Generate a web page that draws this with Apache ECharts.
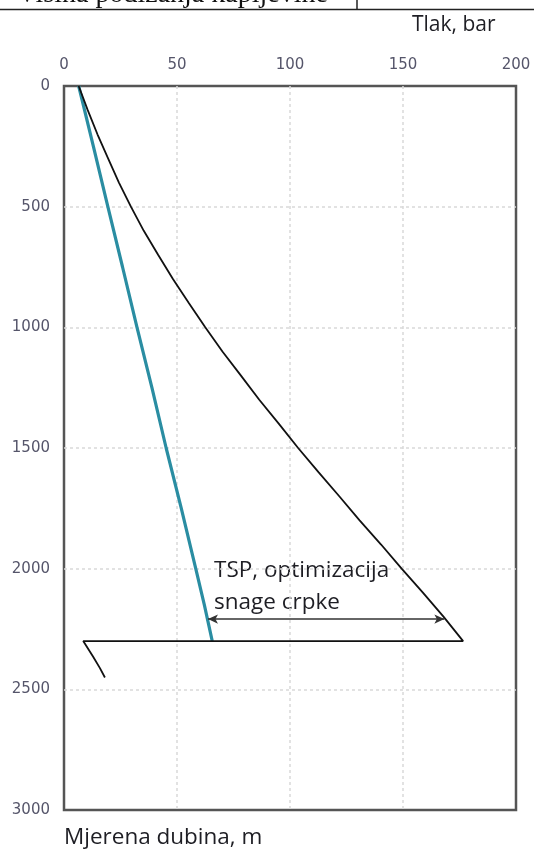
<!DOCTYPE html>
<html><head><meta charset="utf-8">
<script src="https://cdn.jsdelivr.net/npm/echarts@6/dist/echarts.min.js"></script>
<style>html,body{margin:0;padding:0;background:#fff}#c{width:534px;height:854px}</style>
</head><body><div id="c"></div>
<script>
// Axis ticks
const xTicks = [0, 50, 100, 150, 200];
const yTicks = [0, 500, 1000, 1500, 2000, 2500, 3000];

// Black line (pressure gradient), then back along the pump depth and a short tail
const blackDepth = [0, 100, 200, 300, 400, 500, 600, 700, 800, 900, 1000, 1100, 1200, 1300, 1400, 1500, 1600, 1700, 1800, 1900, 2000, 2100, 2200, 2300, 2300, 2365, 2412, 2451];
const blackPressure = [6.5, 10.5, 14.8, 19.5, 24.3, 29.6, 35.3, 41.7, 48.2, 55.3, 62.5, 70.1, 78.3, 86.4, 95.1, 103.6, 112.6, 121.8, 130.8, 140.3, 149.4, 158.9, 168.0, 176.6, 8.5, 12.9, 15.9, 18.1];

// Teal line
const tealDepth = [0, 250, 500, 750, 1000, 1250, 1500, 1750, 2000, 2150, 2300];
const tealPressure = [6.5, 13.0, 19.4, 25.9, 32.3, 38.9, 45.2, 51.9, 58.3, 62.1, 65.6];

// Double arrow annotation (TSP)
const arrowDepth = 2209;
const arrowFrom = 63.7;
const arrowTo = 168.3;

const labels = {
  header: 'Visina podizanja kapljevine',
  xName: 'Tlak, bar',
  yName: 'Mjerena dubina, m',
  note1: 'TSP, optimizacija',
  note2: 'snage crpke'
};

const chart = echarts.init(document.getElementById('c'), null, {renderer: 'canvas'});
const pair = (xs, ds) => xs.map((v, i) => [v, ds[i]]);
const gridLine = {show: true, showMinLine: false, showMaxLine: false, lineStyle: {color: '#d9d9d9', width: 1.5, type: [3, 3]}};
const tickFont = {fontSize: 15, color: '#55556a', fontFamily: 'DejaVu Sans'};

const option = {
  backgroundColor: '#fff',
  animation: false,
  grid: {left: 64, right: 18, top: 86, bottom: 44, show: true, borderColor: '#555', borderWidth: 2.5, backgroundColor: 'transparent'},
  xAxis: {
    type: 'value', position: 'top', min: xTicks[0], max: xTicks[xTicks.length - 1], interval: 50,
    axisLine: {show: false}, axisTick: {show: false},
    axisLabel: Object.assign({margin: 13, formatter: v => xTicks.includes(v) ? String(v) : ''}, tickFont),
    splitLine: gridLine
  },
  yAxis: {
    type: 'value', inverse: true, min: yTicks[0], max: yTicks[yTicks.length - 1], interval: 500,
    axisLine: {show: false}, axisTick: {show: false},
    axisLabel: Object.assign({margin: 14, formatter: v => yTicks.includes(v) ? String(v) : ''}, tickFont),
    splitLine: gridLine
  },
  series: [
    {
      type: 'line', data: pair(tealPressure, tealDepth), showSymbol: false, symbol: 'none',
      lineStyle: {color: '#2a8da2', width: 3.2}, z: 3
    },
    {
      type: 'line', data: pair(blackPressure, blackDepth), showSymbol: false, symbol: 'none',
      lineStyle: {color: '#111', width: 1.8}, z: 4,
      markLine: {
        silent: true, symbol: ['arrow', 'arrow'], symbolSize: [7, 10],
        label: {show: false},
        lineStyle: {color: '#333', width: 1.5, type: 'solid'},
        data: [[{coord: [arrowFrom, arrowDepth]}, {coord: [arrowTo, arrowDepth]}]]
      }
    }
  ],
  graphic: [
    {type: 'line', shape: {x1: 0, y1: 9.5, x2: 534, y2: 9.5}, style: {stroke: '#222', lineWidth: 1.5}},
    {type: 'line', shape: {x1: 357, y1: 0, x2: 357, y2: 9.5}, style: {stroke: '#222', lineWidth: 1.5}},
    {type: 'text', x: 17, y: 9, style: {text: labels.header, font: '28px "Liberation Serif"', fill: '#111', verticalAlign: 'bottom'}},
    {type: 'text', x: 412, y: 25, style: {text: labels.xName, font: '21px "Open Sans"', fill: '#1e1e24', verticalAlign: 'middle'}},
    {type: 'text', x: 64, y: 838, style: {text: labels.yName, font: '22.5px "Open Sans"', fill: '#1e1e24', verticalAlign: 'middle'}},
    {type: 'text', x: 214, y: 571, style: {text: labels.note1, font: '22.5px "Open Sans"', fill: '#1e1e24', verticalAlign: 'middle'}},
    {type: 'text', x: 214, y: 603, style: {text: labels.note2, font: '22.5px "Open Sans"', fill: '#1e1e24', verticalAlign: 'middle'}}
  ]
};
chart.setOption(option);
</script></body></html>
